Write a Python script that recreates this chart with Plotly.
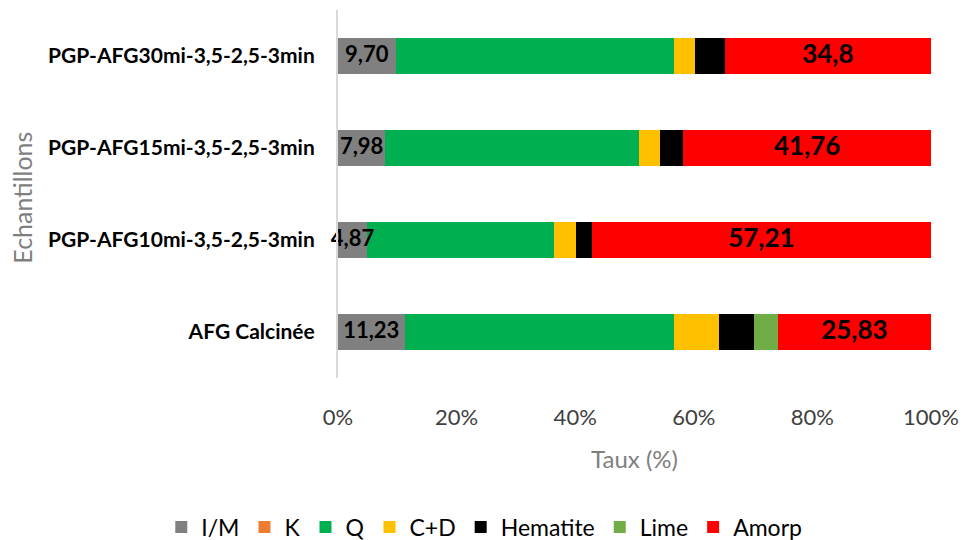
import plotly.graph_objects as go

# Samples, bottom to top
samples = [
    "AFG Calcinée",
    "PGP-AFG10mi-3,5-2,5-3min",
    "PGP-AFG15mi-3,5-2,5-3min",
    "PGP-AFG30mi-3,5-2,5-3min",
]

# Phase contents (%) per sample
im_labels = ["11,23", "4,87", "7,98", "9,70"]
amorp_labels = ["25,83", "57,21", "41,76", "34,8"]
im = [float(s.replace(",", ".")) for s in im_labels]
k = [0, 0, 0, 0]
q = [45.45, 31.5, 42.8, 47.0]
cd = [7.65, 3.7, 3.6, 3.45]
hematite = [5.8, 2.72, 3.86, 5.05]
lime = [4.04, 0, 0, 0]
amorp = [float(s.replace(",", ".")) for s in amorp_labels]

tick_vals = [0, 0.2, 0.4, 0.6, 0.8, 1.0]
tick_text = ["0%", "20%", "40%", "60%", "80%", "100%"]

FONT = "Lato"

series = [
    ("I/M", im, "#808080"),
    ("K", k, "#ED7D31"),
    ("Q", q, "#00B050"),
    ("C+D", cd, "#FFC000"),
    ("Hematite", hematite, "#000000"),
    ("Lime", lime, "#70AD47"),
    ("Amorp", amorp, "#FF0000"),
]

totals = [sum(s[1][i] for s in series) for i in range(len(samples))]

fig = go.Figure()
for name, vals, color in series:
    frac = [v / t for v, t in zip(vals, totals)]
    fig.add_trace(go.Bar(
        y=samples, x=frac, name=name, orientation="h",
        marker=dict(color=color, line=dict(width=0)),
        hoverinfo="skip",
    ))

# Value labels, drawn above all segments so they may overflow narrow ones
im_mid = [v / 2 / t for v, t in zip(im, totals)]
amorp_mid = [(t - v / 2) / t for v, t in zip(amorp, totals)]
for xs, labels, size in [(im_mid, im_labels, 22), (amorp_mid, amorp_labels, 26)]:
    fig.add_trace(go.Scatter(
        x=xs, y=samples, mode="text", text=labels,
        textposition="middle center", showlegend=False, hoverinfo="skip",
        cliponaxis=False,
        textfont=dict(family=FONT, size=size, color="#000000", weight="bold"),
    ))

fig.update_layout(
    barmode="stack",
    bargap=0.6,
    width=966, height=540,
    margin=dict(l=338, r=35, t=10, b=162, autoexpand=False),
    paper_bgcolor="white", plot_bgcolor="white",
    font=dict(family=FONT),
    showlegend=True,
    legend=dict(
        orientation="h", x=-0.298, xanchor="left",
        y=-0.405, yanchor="middle",
        font=dict(family=FONT, size=23, color="#000000"),
        traceorder="normal", itemwidth=30,
    ),
)

fig.update_xaxes(
    range=[0, 1], tickvals=tick_vals, ticktext=tick_text,
    showgrid=False, zeroline=False, showline=False, ticks="",
    ticklabelstandoff=24,
    tickfont=dict(family=FONT, size=22, color="#404040"),
    title=dict(text="Taux (%)", standoff=22,
               font=dict(family=FONT, size=24, color="#7F7F7F")),
)
fig.update_yaxes(
    showgrid=False, zeroline=False, showline=True, linecolor="#D9D9D9",
    linewidth=2, ticks="", ticklabelstandoff=17,
    tickfont=dict(family=FONT, size=21, color="#000000", weight="bold"),
    title_text="",
)

# Vertical y-axis title near the left edge
fig.add_annotation(
    text="Echantillons", xref="paper", yref="paper", x=0, y=0.49,
    xshift=-316, xanchor="center", yanchor="middle",
    textangle=-90, showarrow=False,
    font=dict(family=FONT, size=25, color="#7F7F7F"),
)

fig.write_html("out.html")
